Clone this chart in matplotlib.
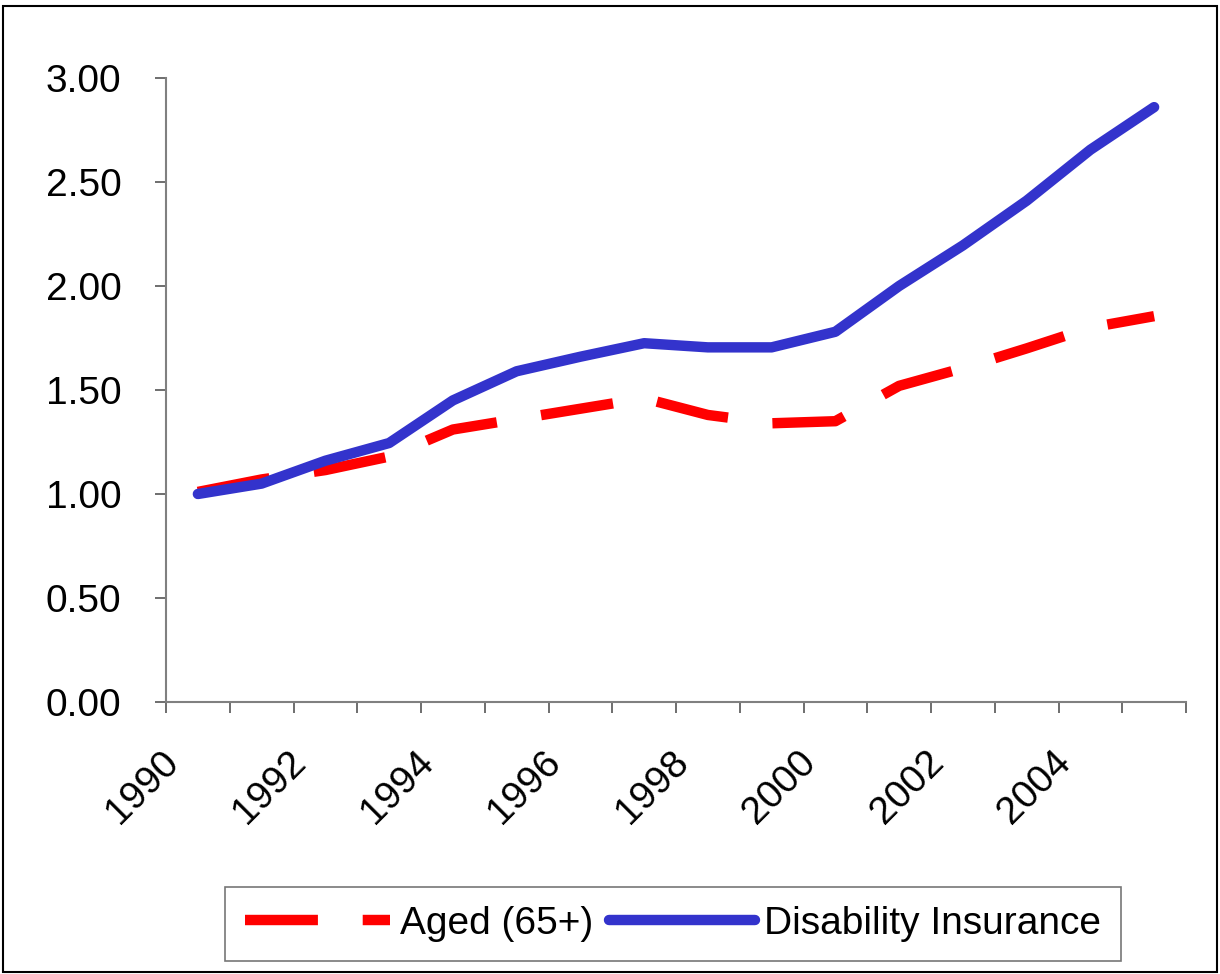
import matplotlib
matplotlib.use("Agg")
import matplotlib.pyplot as plt
import matplotlib.patches as mpatches
import matplotlib.transforms as mtrans
import numpy as np

plt.rcParams['font.family'] = ['Liberation Sans', 'DejaVu Sans']

years = list(range(1990, 2006))
aged = [1.01, 1.07, 1.115, 1.18, 1.31, 1.36, 1.41, 1.46, 1.38, 1.34, 1.35,
        1.52, 1.605, 1.70, 1.80, 1.855]
disability = [1.00, 1.05, 1.16, 1.245, 1.45, 1.59, 1.66, 1.725, 1.705, 1.705,
              1.78, 2.00, 2.195, 2.41, 2.655, 2.86]
yticks = [0.0, 0.5, 1.0, 1.5, 2.0, 2.5, 3.0]

fig = plt.figure(figsize=(12.2, 9.74), dpi=100)
ax = fig.add_axes([166/1220, 1 - 702/974, 1020/1220, 624/974])

x = np.arange(len(years))
ax.plot(x, aged, color="#FF0000", lw=7.5, dashes=(7, 4.3),
        solid_capstyle="butt", dash_capstyle="butt", label="Aged (65+)")
ax.plot(x, disability, color="#3333CC", lw=7.5, solid_capstyle="round",
        solid_joinstyle="round", label="Disability Insurance")

ax.set_xlim(-0.5, len(years) - 0.5)
ax.set_ylim(0, 3)
ax.set_yticks(yticks)
ax.set_yticklabels([f"{v:.2f}" for v in yticks])

# labels on every other year, tick marks between categories
ax.set_xticks(x[::2])
ax.set_xticklabels([str(y) for y in years[::2]], rotation=45, ha="right",
                   va="top")
ax.set_xticks(np.arange(-0.5, len(years), 1), minor=True)
ax.tick_params(axis="x", which="major", length=0, pad=30, labelsize=28)
ax.tick_params(axis="x", which="minor", length=8, width=1.2, color="#555555")
ax.tick_params(axis="y", length=8, width=1.2, color="#555555", labelsize=28, pad=24)
shift = mtrans.ScaledTranslation(-12/100, 0, fig.dpi_scale_trans)
for lab in ax.get_xticklabels():
    lab.set_transform(lab.get_transform() + shift)

for s in ["top", "right"]:
    ax.spines[s].set_visible(False)
for s in ["left", "bottom"]:
    ax.spines[s].set_color("#808080")
    ax.spines[s].set_linewidth(1.5)

leg = fig.legend(loc="center", bbox_to_anchor=(673/1220, 1 - 924/974), ncol=2,
                 fontsize=28, handlelength=3.75, handletextpad=0.25,
                 columnspacing=0.4, borderpad=0.5, fancybox=False,
                 frameon=True)
leg.get_frame().set_edgecolor("#555555")
leg.get_frame().set_linewidth(1.2)

fig.patches.append(mpatches.Rectangle((3/1220, 2/974), 1 - 6/1220, 1 - 8/974,
                                      transform=fig.transFigure, fill=False,
                                      edgecolor="black", lw=1.5))

fig.savefig("out.png", dpi=100)
